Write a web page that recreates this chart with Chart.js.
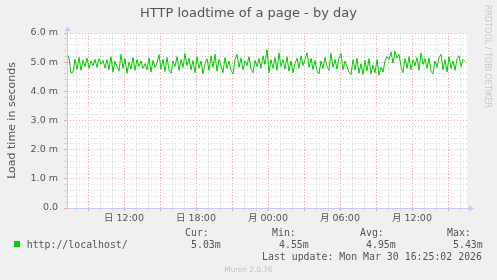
<!DOCTYPE html>
<html>
<head>
<meta charset="utf-8">
<script src="https://cdn.jsdelivr.net/npm/chart.js@4.4.1/dist/chart.umd.min.js"></script>
<style>
  html, body { margin:0; padding:0; background:#f0f0f0; }
  #wrap { position:relative; width:497px; height:280px; overflow:hidden; background:#f0f0f0; }
  #c { position:absolute; left:0; top:0; }
  .t { position:absolute; white-space:pre; color:#555; }
  .mono { font-family:"DejaVu Sans Mono", monospace; font-size:9.9px; line-height:9.9px; }
</style>
</head>
<body>
<div id="wrap">
  <canvas id="c" width="497" height="280"></canvas>
  <div class="t" style="left:0;width:497px;text-align:center;top:5.8px;font:13px/13px 'DejaVu Sans';color:#555;">HTTP loadtime of a page - by day</div>
  <div class="t" style="left:482.5px;top:5px;font:8px/8px 'DejaVu Sans';color:#c8c8c8;writing-mode:vertical-rl;">RRDTOOL / TOBI OETIKER</div>
  <div class="t mono" id="hCur" style="left:185px;top:228px;">Cur:</div>
  <div class="t mono" id="hMin" style="left:272px;top:228px;">Min:</div>
  <div class="t mono" id="hAvg" style="left:360px;top:228px;">Avg:</div>
  <div class="t mono" id="hMax" style="left:447px;top:228px;">Max:</div>
  <div style="position:absolute;left:14px;top:241px;width:6px;height:6px;background:#00cc00;"></div>
  <div class="t mono" id="sname" style="left:26.7px;top:240px;"></div>
  <div class="t mono" id="vCur" style="left:191px;top:240px;"></div>
  <div class="t mono" id="vMin" style="left:279px;top:240px;"></div>
  <div class="t mono" id="vAvg" style="left:366px;top:240px;"></div>
  <div class="t mono" id="vMax" style="left:453px;top:240px;"></div>
  <div class="t mono" style="left:262px;top:251.5px;">Last update: Mon Mar 30 16:25:02 2026</div>
  <div class="t" style="left:0;width:497px;text-align:center;top:265.5px;font:7.4px/7.4px 'DejaVu Sans';color:#c4c4c4;">Munin 2.0.76</div>
</div>
<script>
// ---- data ----
const seriesName = "http://localhost/";
const startClockMinutes = 7 * 60 + 15;   // Sun 07:15 at left edge of plot
const sampleStepMinutes = 10;            // one value every 10 minutes
const spanMinutes = 2000;                // 33h20m window
const loadTimes = [
  5.32, 5.12, 4.63, 4.66, 5.09, 4.76, 5.16, 4.72, 5.06, 4.85, 5.14, 4.79, 5.04, 4.88, 5.10, 4.82, 5.12, 4.92, 5.06, 4.80,
  5.09, 4.74, 5.19, 4.66, 5.04, 4.85, 4.69, 5.27, 4.79, 5.12, 4.62, 5.00, 4.76, 5.16, 4.72, 5.09, 4.85, 5.04, 4.79, 4.95,
  4.74, 5.14, 4.66, 5.06, 4.82, 4.97, 5.26, 4.76, 5.10, 4.68, 5.16, 4.74, 4.62, 5.04, 4.85, 5.19, 4.72, 5.09, 4.82, 5.30,
  4.88, 5.14, 4.74, 5.06, 4.64, 5.19, 4.79, 5.04, 4.60, 4.95, 5.12, 4.72, 5.22, 4.82, 5.27, 4.69, 5.09, 4.88, 4.64, 5.16,
  4.79, 5.04, 4.72, 4.60, 5.09, 5.27, 4.82, 5.14, 4.74, 5.04, 4.88, 5.19, 4.76, 4.64, 5.06, 4.85, 5.12, 4.79, 5.22, 4.92,
  5.43, 4.64, 5.09, 4.79, 5.16, 4.72, 5.32, 4.85, 5.09, 4.76, 5.19, 4.69, 5.04, 4.64, 4.95, 5.14, 4.79, 5.22, 4.88, 5.09,
  5.32, 4.82, 5.14, 4.74, 5.06, 4.69, 4.60, 5.04, 4.79, 5.16, 4.85, 4.72, 5.30, 4.82, 5.09, 4.76, 5.14, 5.30, 4.74, 5.04,
  4.85, 4.66, 4.57, 5.09, 4.74, 5.14, 4.62, 4.95, 4.58, 5.06, 4.69, 5.12, 4.60, 4.90, 4.64, 5.09, 4.55, 4.82, 4.66, 5.04,
  5.19, 5.09, 5.35, 4.97, 5.37, 5.14, 5.27, 4.85, 4.64, 5.12, 4.79, 5.19, 4.74, 5.09, 4.88, 5.16, 4.72, 5.32, 4.92, 5.12,
  4.79, 5.14, 4.69, 4.60, 5.04, 4.82, 5.16, 5.27, 4.74, 5.09, 4.66, 5.19, 4.79, 5.04, 4.72, 5.12, 5.22, 4.85, 5.10, 5.03
];
const statLabels = ["Cur:", "Min:", "Avg:", "Max:"];
const statValues = ["5.03m", "4.55m", "4.95m", "5.43m"];
const dayNames = ["日", "月"];
const yMax = 6;

document.getElementById('sname').textContent = seriesName;
document.getElementById('vCur').textContent = statValues[0];
document.getElementById('vMin').textContent = statValues[1];
document.getElementById('vAvg').textContent = statValues[2];
document.getElementById('vMax').textContent = statValues[3];

const points = loadTimes.map((v, i) => ({ x: i * sampleStepMinutes, y: v }));

const MAJOR = '#f4a4a4';
const MINOR = '#d6d6d6';
const AXIS = '#c8c8f4';

function clockHour(v) { return Math.round((startClockMinutes + v) / 60); }

const bgPlugin = {
  id: 'bg',
  beforeDraw(chart) {
    const a = chart.chartArea, ctx = chart.ctx;
    ctx.save(); ctx.fillStyle = '#ffffff';
    ctx.fillRect(a.left, a.top, a.right - a.left, a.bottom - a.top);
    ctx.restore();
  },
  afterDraw(chart) {
    const a = chart.chartArea, ctx = chart.ctx;
    ctx.save();
    ctx.strokeStyle = AXIS; ctx.fillStyle = AXIS; ctx.lineWidth = 1;
    ctx.beginPath();
    ctx.moveTo(a.left + 0.5, a.bottom); ctx.lineTo(a.left + 0.5, a.top - 3);
    ctx.moveTo(a.left, a.bottom + 0.5); ctx.lineTo(a.right + 3, a.bottom + 0.5);
    ctx.stroke();
    ctx.beginPath();
    ctx.moveTo(a.left - 2.5, a.top - 2); ctx.lineTo(a.left + 3.5, a.top - 2); ctx.lineTo(a.left + 0.5, a.top - 7); ctx.closePath(); ctx.fill();
    ctx.beginPath();
    ctx.moveTo(a.right + 2, a.bottom - 2.5); ctx.lineTo(a.right + 2, a.bottom + 3.5); ctx.lineTo(a.right + 7, a.bottom + 0.5); ctx.closePath(); ctx.fill();
    ctx.restore();
  }
};

new Chart(document.getElementById('c'), {
  type: 'line',
  data: {
    datasets: [{
      label: seriesName,
      data: points,
      borderColor: '#00cc00',
      borderWidth: 1,
      pointRadius: 0,
      tension: 0,
      fill: false
    }]
  },
  options: {
    responsive: false,
    animation: false,
    events: [],
    layout: { padding: { left: 0, top: 33, right: 30, bottom: 52 } },
    plugins: { legend: { display: false }, title: { display: false }, tooltip: { enabled: false } },
    scales: {
      x: {
        type: 'linear',
        min: 0, max: spanMinutes,
        afterFit(s) { s.height = 20; },
        afterBuildTicks(s) {
          const t = [];
          for (let v = 45; v <= spanMinutes; v += 60) t.push({ value: v });
          s.ticks = t;
        },
        ticks: {
          autoSkip: false, maxRotation: 0, padding: 2,
          color: '#555',
          font: { family: "'DejaVu Sans', 'Noto Sans CJK JP'", size: 9.5 },
          callback(v) {
            const h = clockHour(v);
            if (h % 6 !== 0) return '';
            const day = dayNames[Math.floor(h / 24)];
            const hh = String(h % 24).padStart(2, '0');
            return day + ' ' + hh + ':00';
          }
        },
        grid: {
          drawTicks: true, tickLength: 3,
          color(ctx) { const t = ctx.tick; if (!t) return MINOR; return clockHour(t.value) % 3 === 0 ? MAJOR : MINOR; }
        },
        border: { display: false, dash: [1, 2] }
      },
      y: {
        min: 0, max: yMax,
        afterFit(s) { s.width = 67; },
        ticks: {
          stepSize: 0.2, padding: 6, color: '#555', autoSkip: false,
          font: { family: "'DejaVu Sans'", size: 9.5 },
          callback(v) {
            if (Math.abs(v - Math.round(v)) > 1e-6) return '';
            const r = Math.round(v);
            return r === 0 ? '0.0' : r.toFixed(1) + ' m';
          }
        },
        grid: {
          drawTicks: true, tickLength: 3,
          color(ctx) { const t = ctx.tick; if (!t) return MINOR; return Math.abs(t.value - Math.round(t.value)) < 1e-6 ? MAJOR : MINOR; }
        },
        border: { display: false, dash: [1, 2] },
        title: {
          display: true, text: 'Load time in seconds', color: '#555',
          font: { family: "'DejaVu Sans'", size: 11 },
          padding: { top: 6, bottom: 0 }
        }
      }
    }
  },
  plugins: [bgPlugin]
});
</script>
</body>
</html>
